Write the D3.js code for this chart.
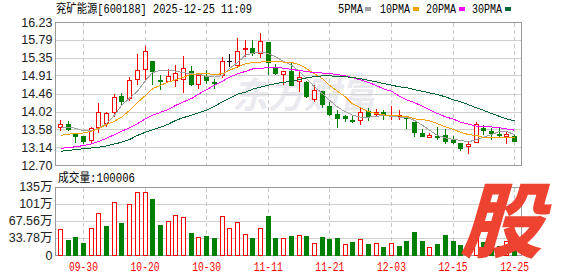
<!DOCTYPE html>
<html><head><meta charset="utf-8">
<script src="https://cdn.jsdelivr.net/npm/d3@7"></script>
<style>body{margin:0;background:#fff}svg{display:block}</style>
</head><body>
<svg id="c" width="578" height="276"></svg>
<script>
// ---------------- data ----------------
const dates = ["09-25","09-26","09-29","09-30","10-09","10-10","10-13","10-14","10-15","10-16",
"10-17","10-20","10-21","10-22","10-23","10-24","10-27","10-28","10-29","10-30",
"10-31","11-03","11-04","11-05","11-06","11-07","11-10","11-11","11-12","11-13",
"11-14","11-17","11-18","11-19","11-20","11-21","11-24","11-25","11-26","11-27",
"11-28","12-01","12-02","12-03","12-04","12-05","12-08","12-09","12-10","12-11",
"12-12","12-15","12-16","12-17","12-18","12-19","12-22","12-23","12-24","12-25"];
const openP  = [13.63,13.70,13.49,13.41,13.31,13.65,13.73,14.00,14.40,14.35,14.83,15.08,15.26,14.81,14.77,14.79,14.83,15.02,14.71,14.89,
14.75,14.91,15.26,15.18,15.57,15.59,15.47,15.74,15.10,14.95,15.02,14.78,14.75,14.34,14.52,14.15,13.95,13.90,13.81,13.80,
14.03,13.97,14.01,13.91,13.91,13.91,13.76,13.49,13.39,13.41,13.43,13.31,13.24,13.17,13.28,13.62,13.55,13.47,13.42,13.41];
const highP  = [13.82,13.79,13.49,13.41,13.65,14.23,14.02,14.45,14.47,14.86,15.43,15.64,15.27,14.93,15.08,15.16,15.38,15.15,14.91,15.04,
14.83,15.37,15.45,15.83,15.78,15.78,15.97,15.74,15.20,15.02,15.24,14.99,14.77,14.68,14.52,14.26,14.05,13.94,13.90,14.11,
14.11,14.09,14.06,14.16,14.05,13.92,13.76,13.60,13.49,13.63,13.60,13.42,13.24,13.27,13.76,13.68,13.61,13.63,13.51,13.43];
const lowP   = [13.56,13.57,13.28,13.25,13.28,13.51,13.67,13.91,14.20,14.30,14.69,14.83,14.70,14.58,14.77,14.64,14.51,14.67,14.61,14.72,
14.61,14.87,15.15,15.12,15.38,15.41,15.37,14.95,14.95,14.71,14.67,14.53,14.38,14.28,14.12,13.94,13.65,13.79,13.76,13.70,
13.80,13.91,13.84,13.84,13.84,13.62,13.42,13.42,13.39,13.33,13.25,13.25,13.06,13.00,13.27,13.46,13.35,13.42,13.25,13.30];
const closeP = [13.70,13.60,13.42,13.29,13.62,14.02,13.98,14.37,14.28,14.81,15.05,15.51,15.02,14.77,14.90,14.97,15.09,14.69,14.91,14.80,
14.73,15.26,15.26,15.51,15.59,15.47,15.75,15.24,14.98,15.02,14.68,14.86,14.40,14.56,14.20,13.97,13.87,13.87,13.79,14.01,
13.91,14.01,13.94,13.93,13.93,13.86,13.51,13.42,13.43,13.39,13.29,13.28,13.12,13.21,13.70,13.57,13.49,13.45,13.46,13.30];
const ma5  = [13.64,13.63,13.61,13.54,13.54,13.61,13.72,13.93,14.17,14.35,14.52,14.79,14.98,15.04,15.04,15.02,14.98,14.95,14.94,14.89,
14.87,14.91,15.08,15.23,15.41,15.46,15.49,15.45,15.37,15.26,15.16,15.01,14.83,14.63,14.46,14.30,14.13,14.01,13.93,13.88,
13.88,13.90,13.93,13.90,13.88,13.88,13.80,13.68,13.56,13.43,13.37,13.33,13.31,13.27,13.33,13.39,13.45,13.53,13.53,13.45];
const ma10 = [13.43,13.46,13.48,13.49,13.53,13.60,13.70,13.78,13.88,14.05,14.24,14.42,14.58,14.67,14.75,14.80,14.87,14.94,14.95,14.95,
14.94,14.95,15.04,15.12,15.20,15.23,15.24,15.26,15.26,15.24,15.23,15.18,15.08,14.95,14.83,14.67,14.52,14.38,14.21,14.11,
14.02,13.97,13.94,13.91,13.91,13.90,13.84,13.82,13.79,13.72,13.64,13.58,13.51,13.45,13.43,13.38,13.38,13.38,13.37,13.37];
const ma20 = [13.11,13.13,13.15,13.18,13.22,13.28,13.36,13.45,13.53,13.62,13.72,13.84,13.93,14.00,14.07,14.17,14.26,14.34,14.45,14.56,
14.67,14.77,14.87,14.95,15.01,15.07,15.09,15.10,15.11,15.09,15.06,15.03,15.01,14.98,14.97,14.96,14.93,14.90,14.86,14.80,
14.74,14.66,14.58,14.52,14.40,14.31,14.24,14.15,14.06,13.97,13.89,13.83,13.76,13.71,13.66,13.65,13.64,13.62,13.59,13.56];
const ma30 = [13.04,13.06,13.08,13.10,13.12,13.14,13.17,13.22,13.26,13.33,13.43,13.51,13.57,13.63,13.71,13.80,13.87,13.93,13.99,14.05,
14.15,14.26,14.35,14.45,14.50,14.57,14.62,14.67,14.71,14.74,14.77,14.81,14.85,14.88,14.90,14.90,14.89,14.88,14.86,14.83,
14.79,14.75,14.71,14.67,14.63,14.61,14.56,14.52,14.48,14.44,14.38,14.31,14.26,14.19,14.11,14.05,13.97,13.90,13.84,13.79];
const volume = [50.5,29.5,35.4,23.6,53.1,84.0,57.1,105.6,63.0,101.7,125.3,125.3,110.2,59.0,66.3,80.0,76.1,43.3,35.4,37.4,
33.5,78.1,53.1,64.3,40.7,33.5,54.4,76.8,33.5,32.8,37.4,38.7,37.4,23.0,35.4,31.5,33.5,21.0,25.6,30.8,
21.6,23.0,15.7,23.0,17.7,27.6,45.3,27.6,15.1,21.6,39.4,27.6,19.7,22.0,55.0,24.9,20.0,18.0,26.9,10.0];
const volumeUp = [1,0,0,0,1,1,0,1,0,1,1,1,0,0,1,1,1,0,1,0,
0,1,1,1,1,0,1,0,0,1,0,1,0,1,0,0,0,1,0,1,
0,1,0,1,0,0,0,0,1,0,0,0,0,1,1,0,0,0,1,0];
const priceTicks = [16.23,15.79,15.35,14.91,14.46,14.02,13.58,13.14,12.70];
const volTicks = [135.12,101.34,67.56,33.78,0];
const volTickLabels = ["135万","101万","67.56万","33.78万","0"];
const dateTicks = ["09-30","10-20","10-30","11-11","11-21","12-03","12-15","12-25"];
const maNames = ["5PMA","10PMA","20PMA","30PMA"];
const maColors = ["#a0a0a0","#f5a300","#ff00ff","#006633"];
const titleText = "兖矿能源[600188] 2025-12-25 11:09";
const volTitle = "成交量:100006";

// ---------------- drawing ----------------
const RED="#ff0000", GREEN="#008000", GRID="#d0d0d0", FRAME="#999";
const svg = d3.select("#c");
const x = d3.scaleBand().domain(dates).range([56.5,518.5]).paddingInner(0.35).paddingOuter(0.175);
const y = d3.scaleLinear().domain([12.70,16.23]).range([165,22]);
const yv = d3.scaleLinear().domain([0,135.12]).range([255,186.7]);
const cpx = d => Math.floor(x(d) + x.bandwidth()/2);
const L=55.5, Rr=521.5;
const yT = Math.round(y(16.23))+0.5, yB = Math.round(y(12.70))+0.5;
const vT = Math.round(yv(135.12))+0.5, vB = Math.round(yv(0))+0.5;

// watermark
svg.append("text").attr("x",232).attr("y",108).attr("font-family","Noto Sans CJK SC")
  .attr("font-size",36).attr("font-weight","bold").attr("font-style","italic")
  .attr("fill","#e9e9ef").text("东方财富");

// horizontal grids
const g = svg.append("g").attr("shape-rendering","crispEdges");
g.selectAll(".hp").data(priceTicks).join("line")
  .attr("x1",L).attr("x2",Rr).attr("y1",d=>Math.round(y(d))+0.5).attr("y2",d=>Math.round(y(d))+0.5)
  .attr("stroke",GRID);
g.selectAll(".hv").data(volTicks).join("line")
  .attr("x1",L).attr("x2",Rr).attr("y1",d=>Math.round(yv(d))+0.5).attr("y2",d=>Math.round(yv(d))+0.5)
  .attr("stroke",GRID);
// vertical dashed
[[yT,yB],[vT,vB]].forEach(([a,b])=>{
  g.append("g").selectAll("line").data(dateTicks).join("line")
   .attr("x1",d=>cpx(d)+0.5).attr("x2",d=>cpx(d)+0.5).attr("y1",a).attr("y2",b)
   .attr("stroke","#c8c8c8").attr("stroke-dasharray","4,3");
});
// frames
g.append("rect").attr("x",L).attr("y",yT).attr("width",Rr-L).attr("height",yB-yT).attr("fill","none").attr("stroke",FRAME);
g.append("rect").attr("x",L).attr("y",vT).attr("width",Rr-L).attr("height",vB-vT).attr("fill","none").attr("stroke",FRAME);

// candles
const candles = dates.map((d,i)=>({d,o:openP[i],h:highP[i],l:lowP[i],c:closeP[i]}));
const cg = svg.append("g").attr("shape-rendering","crispEdges");
candles.forEach(k=>{
  const c = cpx(k.d);
  const col = k.c>k.o?RED:(k.c<k.o?GREEN:"#000");
  const top = Math.round(y(Math.max(k.o,k.c))), bot = Math.round(y(Math.min(k.o,k.c)));
  const yh = Math.round(y(k.h)), yl = Math.round(y(k.l));
  if (bot-top < 2) {
    cg.append("line").attr("x1",c+0.5).attr("x2",c+0.5).attr("y1",yh).attr("y2",yl+1).attr("stroke",col);
    cg.append("rect").attr("x",c-2).attr("y",top).attr("width",5).attr("height",Math.max(bot-top,1)+ (k.c===k.o?0:1)).attr("fill",col);
  } else if (k.c>k.o) {
    cg.append("line").attr("x1",c+0.5).attr("x2",c+0.5).attr("y1",yh).attr("y2",top).attr("stroke",col);
    cg.append("line").attr("x1",c+0.5).attr("x2",c+0.5).attr("y1",bot).attr("y2",yl+1).attr("stroke",col);
    cg.append("rect").attr("x",c-1.5).attr("y",top+0.5).attr("width",4).attr("height",bot-top).attr("fill","#fff").attr("stroke",col);
  } else {
    cg.append("line").attr("x1",c+0.5).attr("x2",c+0.5).attr("y1",yh).attr("y2",yl+1).attr("stroke",col);
    cg.append("rect").attr("x",c-2).attr("y",top).attr("width",5).attr("height",bot-top+1).attr("fill",col);
  }
});

// MA lines
[ma5,ma10,ma20,ma30].forEach((arr,j)=>{
  svg.append("path").datum(arr)
    .attr("d",d3.line().x((v,i)=>cpx(dates[i])+0.5).y(v=>y(v)))
    .attr("fill","none").attr("stroke",maColors[j]).attr("stroke-width",1)
    .attr("shape-rendering","crispEdges");
});

// volume bars
const vg = svg.append("g").attr("shape-rendering","crispEdges");
dates.forEach((d,i)=>{
  const c = cpx(d), t = Math.round(yv(volume[i]));
  if (volumeUp[i]) {
    vg.append("rect").attr("x",c-1.5).attr("y",t+0.5).attr("width",4).attr("height",255-t).attr("fill","#fff").attr("stroke",RED);
  } else {
    vg.append("rect").attr("x",c-2).attr("y",t).attr("width",5).attr("height",256-t).attr("fill",GREEN);
  }
});

// axes
const axFont = "Liberation Sans, Arial, Noto Sans CJK SC";
const ay = svg.append("g").attr("transform","translate(55,0)")
  .call(d3.axisLeft(y).tickValues(priceTicks).tickSize(0).tickPadding(2.5).tickFormat(d3.format(".2f")));
ay.select(".domain").remove();
ay.selectAll("text").attr("font-family",axFont).attr("font-size",12.5).attr("fill","#222");
const av = svg.append("g").attr("transform","translate(55,0)")
  .call(d3.axisLeft(yv).tickValues(volTicks).tickSize(0).tickPadding(2.5).tickFormat((d,i)=>volTickLabels[i]));
av.select(".domain").remove();
av.selectAll("text").attr("font-family",axFont).attr("font-size",12.5).attr("fill","#222");
const ax = svg.append("g").attr("transform","translate(0,258)")
  .call(d3.axisBottom(x).tickValues(dateTicks).tickSize(0).tickPadding(4));
ax.select(".domain").remove();
ax.selectAll("text").attr("font-family","Liberation Mono, monospace").attr("font-size",12)
  .attr("fill",RED).attr("textLength",29).attr("lengthAdjust","spacingAndGlyphs");

// title & legend
const monoCJK = "Liberation Mono, Noto Sans CJK SC";
svg.append("text").attr("x",56).attr("y",13).attr("font-family",monoCJK).attr("font-size",12)
  .attr("textLength",196).attr("lengthAdjust","spacingAndGlyphs").attr("fill","#000").text(titleText);
const legX = [338,380,426,472], legW=[25,30,30,30], legR=[365,413,459,505];
maNames.forEach((n,j)=>{
  svg.append("text").attr("x",legX[j]).attr("y",13).attr("font-family","Liberation Mono, monospace").attr("font-size",12)
    .attr("textLength",legW[j]).attr("lengthAdjust","spacingAndGlyphs").attr("fill","#000").text(n);
  svg.append("rect").attr("x",legR[j]).attr("y",7).attr("width",6).attr("height",4).attr("fill",maColors[j]);
});
svg.append("text").attr("x",58).attr("y",181.5).attr("font-family",monoCJK).attr("font-size",12)
  .attr("textLength",77).attr("lengthAdjust","spacingAndGlyphs").attr("fill","#000").text(volTitle);

// logo
svg.append("g").attr("transform","translate(510,220) skewX(-16)")
  .append("text").attr("x",0).attr("y",31).attr("text-anchor","middle")
  .attr("font-family","Noto Sans CJK SC").attr("font-weight","900").attr("font-size",82)
  .attr("fill","#ee4330").text("股");
</script>
</body></html>
